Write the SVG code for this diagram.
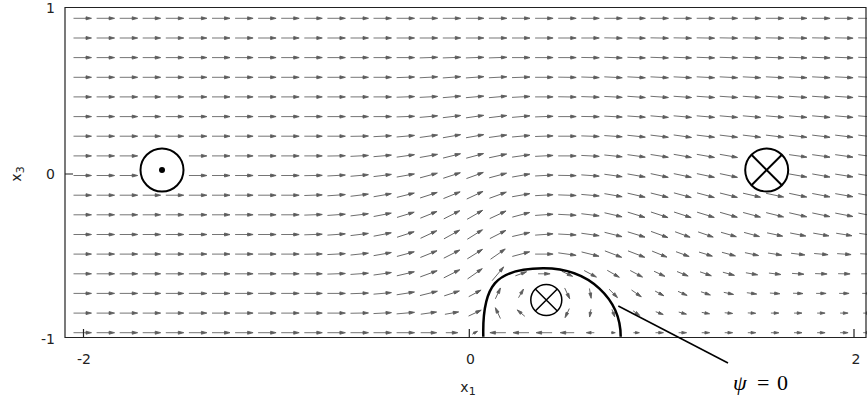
<svg xmlns="http://www.w3.org/2000/svg" width="867" height="401" viewBox="0 0 867 401">
<style>
.ar{fill:#5c5c5c;stroke:#5c5c5c;stroke-width:0.85}
.fr{fill:none;stroke:#222;stroke-width:1.2}
.tk{font-family:'DejaVu Sans',sans-serif;font-size:14px;fill:#222}
.sym{fill:#fff;stroke:#000;stroke-width:2}
.ln{fill:none;stroke:#000}
</style>
<defs>
<path id="a" d="M-9,0H4M3.5,-1.5L9,0L3.5,1.5z"/>
<path id="b" d="M-8,0H3M2.5,-1.5L8,0L2.5,1.5z"/>
<path id="c" d="M-7,0H2M1.5,-1.5L7,0L1.5,1.5z"/>
<path id="d" d="M-6,0H1M0.5,-1.5L6,0L0.5,1.5z"/>
<path id="e" d="M-5,0H0M-0.3,-1.4L5,0L-0.3,1.4z"/>
<path id="f" d="M-4,0H-1M-0.8,-1.3L4,0L-0.8,1.3z"/>
<path id="g" d="M-3,0H0M-1,-1.2L3,0L-1,1.2z"/>
<path id="h" d="M-2,0H0M-1.5,-1.1L2,0L-1.5,1.1z"/>
</defs>
<rect width="867" height="401" fill="#fff"/>
<g id="field" class="ar">
<g transform="translate(0 18.3)">
<use href="#a" x="82.5"/><use href="#a" x="105.6"/><use href="#a" x="128.7"/><use href="#a" x="151.7"/><use href="#a" x="174.8"/><use href="#a" x="197.9"/><use href="#a" x="221"/><use href="#a" x="244.1"/><use href="#a" x="267.1"/><use href="#a" x="290.2"/><use href="#a" x="313.3"/><use href="#a" x="336.4"/><use href="#a" x="359.5"/><use href="#a" x="382.5"/><use href="#a" x="405.6"/><use href="#a" x="428.7"/><use href="#a" x="451.8"/><use href="#a" x="474.9"/><use href="#a" x="497.9"/><use href="#a" x="521"/><use href="#a" x="544.1"/><use href="#a" x="567.2"/><use href="#a" x="590.3"/><use href="#a" x="613.3"/><use href="#a" x="636.4"/><use href="#a" x="659.5"/><use href="#a" x="682.6"/><use href="#a" x="705.7"/><use href="#a" x="728.7"/><use href="#a" x="751.8"/><use href="#a" x="774.9"/><use href="#a" x="798"/><use href="#a" x="821.1"/><use href="#a" x="844.1"/><use href="#a" x="867.2"/>
</g>
<g transform="translate(0 38)">
<use href="#a" x="82.5"/><use href="#a" x="105.6"/><use href="#a" x="128.7"/><use href="#a" x="151.7"/><use href="#a" x="174.8"/><use href="#a" x="197.9"/><use href="#a" x="221"/><use href="#a" x="244.1"/><use href="#a" x="267.1"/><use href="#a" x="290.2"/><use href="#a" x="313.3"/><use href="#a" x="336.4"/><use href="#a" x="359.5"/><use href="#a" x="382.5"/><use href="#a" x="405.6"/><use href="#a" x="428.7"/><use href="#a" x="451.8"/><use href="#a" x="474.9"/><use href="#a" x="497.9"/><use href="#a" x="521"/><use href="#a" x="544.1"/><use href="#a" x="567.2"/><use href="#a" x="590.3"/>
<use href="#a" transform="translate(613.3) rotate(1)"/><use href="#a" transform="translate(636.4) rotate(1)"/><use href="#a" transform="translate(659.5) rotate(1)"/><use href="#a" transform="translate(682.6) rotate(1)"/><use href="#a" transform="translate(705.7) rotate(1)"/><use href="#a" transform="translate(728.7) rotate(1)"/><use href="#a" transform="translate(751.8) rotate(1)"/><use href="#a" transform="translate(774.9) rotate(1)"/><use href="#a" transform="translate(798) rotate(1)"/><use href="#a" transform="translate(821.1) rotate(1)"/><use href="#a" transform="translate(844.1) rotate(1)"/><use href="#a" transform="translate(867.2) rotate(1)"/>
</g>
<g transform="translate(0 57.6)">
<use href="#a" x="82.5"/><use href="#a" x="105.6"/><use href="#a" x="128.7"/><use href="#a" x="151.7"/><use href="#a" x="174.8"/><use href="#a" x="197.9"/><use href="#a" x="221"/><use href="#a" x="244.1"/><use href="#a" x="267.1"/><use href="#a" x="290.2"/><use href="#a" x="313.3"/><use href="#a" x="336.4"/><use href="#a" x="359.5"/><use href="#a" x="382.5"/><use href="#a" x="405.6"/>
<use href="#a" transform="translate(428.7) rotate(-2)"/><use href="#a" transform="translate(451.8) rotate(-2)"/><use href="#a" transform="translate(474.9) rotate(-2)"/><use href="#a" transform="translate(497.9) rotate(-2)"/>
<use href="#a" x="521"/><use href="#a" x="544.1"/><use href="#a" x="567.2"/>
<use href="#a" transform="translate(590.3) rotate(1)"/><use href="#a" transform="translate(613.3) rotate(2)"/><use href="#a" transform="translate(636.4) rotate(2)"/><use href="#a" transform="translate(659.5) rotate(2)"/><use href="#a" transform="translate(682.6) rotate(2)"/><use href="#a" transform="translate(705.7) rotate(2)"/><use href="#a" transform="translate(728.7) rotate(2)"/><use href="#a" transform="translate(751.8) rotate(2)"/><use href="#a" transform="translate(774.9) rotate(2)"/><use href="#a" transform="translate(798) rotate(2)"/><use href="#a" transform="translate(821.1) rotate(2)"/><use href="#a" transform="translate(844.1) rotate(2)"/><use href="#a" transform="translate(867.2) rotate(2)"/>
</g>
<g transform="translate(0 77.3)">
<use href="#a" x="82.5"/><use href="#a" x="105.6"/><use href="#a" x="128.7"/><use href="#a" x="151.7"/><use href="#a" x="174.8"/><use href="#a" x="197.9"/><use href="#a" x="221"/><use href="#a" x="244.1"/><use href="#a" x="267.1"/><use href="#a" x="290.2"/><use href="#a" x="313.3"/><use href="#a" x="336.4"/><use href="#a" x="359.5"/><use href="#a" x="382.5"/>
<use href="#a" transform="translate(405.6) rotate(-2)"/><use href="#a" transform="translate(428.7) rotate(-3)"/><use href="#a" transform="translate(451.8) rotate(-4)"/><use href="#a" transform="translate(474.9) rotate(-4)"/><use href="#a" transform="translate(497.9) rotate(-3)"/><use href="#a" transform="translate(521) rotate(-2)"/>
<use href="#a" x="544.1"/>
<use href="#a" transform="translate(567.2) rotate(1)"/><use href="#a" transform="translate(590.3) rotate(2)"/><use href="#a" transform="translate(613.3) rotate(3)"/><use href="#a" transform="translate(636.4) rotate(3)"/><use href="#a" transform="translate(659.5) rotate(3)"/><use href="#a" transform="translate(682.6) rotate(3)"/><use href="#a" transform="translate(705.7) rotate(3)"/><use href="#a" transform="translate(728.7) rotate(3)"/><use href="#a" transform="translate(751.8) rotate(3)"/><use href="#a" transform="translate(774.9) rotate(3)"/><use href="#a" transform="translate(798) rotate(3)"/><use href="#a" transform="translate(821.1) rotate(3)"/><use href="#a" transform="translate(844.1) rotate(3)"/><use href="#a" transform="translate(867.2) rotate(3)"/>
</g>
<g transform="translate(0 96.9)">
<use href="#a" x="82.5"/><use href="#a" x="105.6"/><use href="#a" x="128.7"/><use href="#a" x="151.7"/><use href="#a" x="174.8"/><use href="#a" x="197.9"/><use href="#a" x="221"/><use href="#a" x="244.1"/><use href="#a" x="267.1"/><use href="#a" x="290.2"/><use href="#a" x="313.3"/><use href="#a" x="336.4"/><use href="#a" x="359.5"/><use href="#a" x="382.5"/>
<use href="#a" transform="translate(405.6) rotate(-2)"/><use href="#a" transform="translate(428.7) rotate(-3)"/><use href="#a" transform="translate(451.8) rotate(-5)"/><use href="#a" transform="translate(474.9) rotate(-5)"/><use href="#a" transform="translate(497.9) rotate(-5)"/><use href="#a" transform="translate(521) rotate(-3)"/>
<use href="#a" x="544.1"/>
<use href="#a" transform="translate(567.2) rotate(1)"/><use href="#a" transform="translate(590.3) rotate(2)"/><use href="#a" transform="translate(613.3) rotate(3)"/><use href="#a" transform="translate(636.4) rotate(4)"/><use href="#a" transform="translate(659.5) rotate(4)"/><use href="#a" transform="translate(682.6) rotate(4)"/><use href="#a" transform="translate(705.7) rotate(4)"/><use href="#a" transform="translate(728.7) rotate(4)"/><use href="#a" transform="translate(751.8) rotate(4)"/><use href="#a" transform="translate(774.9) rotate(4)"/><use href="#a" transform="translate(798) rotate(4)"/><use href="#a" transform="translate(821.1) rotate(4)"/><use href="#a" transform="translate(844.1) rotate(4)"/><use href="#a" transform="translate(867.2) rotate(4)"/>
</g>
<g transform="translate(0 116.6)">
<use href="#a" x="82.5"/><use href="#a" x="105.6"/><use href="#a" x="128.7"/><use href="#a" x="151.7"/><use href="#a" x="174.8"/><use href="#a" x="197.9"/><use href="#a" x="221"/><use href="#a" x="244.1"/><use href="#a" x="267.1"/><use href="#a" x="290.2"/><use href="#a" x="313.3"/><use href="#a" x="336.4"/><use href="#a" x="359.5"/><use href="#a" x="382.5"/>
<use href="#a" transform="translate(405.6) rotate(-2)"/><use href="#a" transform="translate(428.7) rotate(-5)"/><use href="#a" transform="translate(451.8) rotate(-7)"/><use href="#a" transform="translate(474.9) rotate(-8)"/><use href="#a" transform="translate(497.9) rotate(-7)"/><use href="#a" transform="translate(521) rotate(-5)"/><use href="#a" transform="translate(544.1) rotate(-2)"/>
<use href="#a" x="567.2"/>
<use href="#a" transform="translate(590.3) rotate(1)"/><use href="#a" transform="translate(613.3) rotate(3)"/><use href="#a" transform="translate(636.4) rotate(4)"/><use href="#a" transform="translate(659.5) rotate(5)"/><use href="#a" transform="translate(682.6) rotate(5)"/><use href="#a" transform="translate(705.7) rotate(5)"/><use href="#a" transform="translate(728.7) rotate(5)"/><use href="#a" transform="translate(751.8) rotate(5)"/><use href="#a" transform="translate(774.9) rotate(5)"/><use href="#a" transform="translate(798) rotate(5)"/><use href="#a" transform="translate(821.1) rotate(5)"/><use href="#a" transform="translate(844.1) rotate(5)"/><use href="#a" transform="translate(867.2) rotate(5)"/>
</g>
<g transform="translate(0 136.2)">
<use href="#a" x="82.5"/><use href="#a" x="105.6"/><use href="#a" x="128.7"/><use href="#a" x="151.7"/><use href="#a" x="174.8"/><use href="#a" x="197.9"/><use href="#a" x="221"/><use href="#a" x="244.1"/><use href="#a" x="267.1"/><use href="#a" x="290.2"/><use href="#a" x="313.3"/><use href="#a" x="336.4"/>
<use href="#a" transform="translate(359.5) rotate(-1)"/><use href="#a" transform="translate(382.5) rotate(-3)"/><use href="#a" transform="translate(405.6) rotate(-5)"/><use href="#a" transform="translate(428.7) rotate(-8)"/><use href="#a" transform="translate(451.8) rotate(-10)"/><use href="#a" transform="translate(474.9) rotate(-10)"/><use href="#a" transform="translate(497.9) rotate(-8)"/><use href="#a" transform="translate(521) rotate(-5)"/><use href="#a" transform="translate(544.1) rotate(-2)"/>
<use href="#a" x="567.2"/>
<use href="#a" transform="translate(590.3) rotate(2)"/><use href="#a" transform="translate(613.3) rotate(4)"/><use href="#a" transform="translate(636.4) rotate(6)"/><use href="#a" transform="translate(659.5) rotate(7)"/><use href="#a" transform="translate(682.6) rotate(8)"/><use href="#a" transform="translate(705.7) rotate(7)"/><use href="#a" transform="translate(728.7) rotate(7)"/><use href="#a" transform="translate(751.8) rotate(7)"/><use href="#a" transform="translate(774.9) rotate(7)"/><use href="#a" transform="translate(798) rotate(7)"/><use href="#a" transform="translate(821.1) rotate(7)"/><use href="#a" transform="translate(844.1) rotate(7)"/><use href="#a" transform="translate(867.2) rotate(7)"/>
</g>
<g transform="translate(0 155.9)">
<use href="#a" x="82.5"/><use href="#a" x="105.6"/><use href="#a" x="128.7"/><use href="#a" x="197.9"/><use href="#a" x="221"/><use href="#a" x="244.1"/><use href="#a" x="267.1"/><use href="#a" x="290.2"/><use href="#a" x="313.3"/>
<use href="#a" transform="translate(336.4) rotate(-1)"/><use href="#a" transform="translate(359.5) rotate(-3)"/><use href="#a" transform="translate(382.5) rotate(-5)"/><use href="#a" transform="translate(405.6) rotate(-8)"/><use href="#a" transform="translate(428.7) rotate(-10)"/><use href="#a" transform="translate(451.8) rotate(-14)"/><use href="#a" transform="translate(474.9) rotate(-15)"/><use href="#a" transform="translate(497.9) rotate(-12)"/><use href="#a" transform="translate(521) rotate(-8)"/><use href="#a" transform="translate(544.1) rotate(-3)"/>
<use href="#a" x="567.2"/>
<use href="#a" transform="translate(590.3) rotate(3)"/><use href="#a" transform="translate(613.3) rotate(6)"/><use href="#a" transform="translate(636.4) rotate(8)"/><use href="#a" transform="translate(659.5) rotate(9)"/><use href="#a" transform="translate(682.6) rotate(10)"/><use href="#a" transform="translate(705.7) rotate(10)"/><use href="#a" transform="translate(728.7) rotate(10)"/><use href="#a" transform="translate(798) rotate(8)"/><use href="#a" transform="translate(821.1) rotate(8)"/><use href="#a" transform="translate(844.1) rotate(8)"/><use href="#a" transform="translate(867.2) rotate(8)"/>
</g>
<g transform="translate(0 175.5)">
<use href="#a" x="82.5"/><use href="#a" x="105.6"/><use href="#a" x="128.7"/><use href="#a" x="197.9"/><use href="#a" x="221"/><use href="#a" x="244.1"/><use href="#a" x="267.1"/><use href="#a" x="290.2"/>
<use href="#a" transform="translate(313.3) rotate(-1)"/><use href="#a" transform="translate(336.4) rotate(-3)"/><use href="#a" transform="translate(359.5) rotate(-5)"/><use href="#a" transform="translate(382.5) rotate(-7)"/><use href="#a" transform="translate(405.6) rotate(-10)"/><use href="#a" transform="translate(428.7) rotate(-15)"/><use href="#a" transform="translate(451.8) rotate(-18)"/><use href="#a" transform="translate(474.9) rotate(-20)"/><use href="#a" transform="translate(497.9) rotate(-15)"/><use href="#a" transform="translate(521) rotate(-10)"/><use href="#a" transform="translate(544.1) rotate(-3)"/>
<use href="#a" transform="translate(567.2) rotate(1)"/><use href="#a" transform="translate(590.3) rotate(4)"/><use href="#a" transform="translate(613.3) rotate(8)"/><use href="#a" transform="translate(636.4) rotate(10)"/><use href="#a" transform="translate(659.5) rotate(12)"/><use href="#a" transform="translate(682.6) rotate(12)"/><use href="#a" transform="translate(705.7) rotate(12)"/><use href="#a" transform="translate(728.7) rotate(12)"/><use href="#a" transform="translate(798) rotate(10)"/><use href="#a" transform="translate(821.1) rotate(10)"/><use href="#a" transform="translate(844.1) rotate(9)"/><use href="#a" transform="translate(867.2) rotate(9)"/>
</g>
<g transform="translate(0 195.2)">
<use href="#a" x="82.5"/><use href="#a" x="105.6"/><use href="#a" x="128.7"/><use href="#a" x="151.7"/><use href="#a" x="174.8"/><use href="#a" x="197.9"/><use href="#a" x="221"/><use href="#a" x="244.1"/><use href="#a" x="267.1"/><use href="#a" x="290.2"/>
<use href="#a" transform="translate(313.3) rotate(-2)"/><use href="#a" transform="translate(336.4) rotate(-4)"/><use href="#a" transform="translate(359.5) rotate(-7)"/><use href="#a" transform="translate(382.5) rotate(-10)"/><use href="#a" transform="translate(405.6) rotate(-14)"/><use href="#a" transform="translate(428.7) rotate(-18)"/><use href="#a" transform="translate(451.8) rotate(-22)"/><use href="#a" transform="translate(474.9) rotate(-25)"/><use href="#a" transform="translate(497.9) rotate(-20)"/><use href="#a" transform="translate(521) rotate(-10)"/><use href="#a" transform="translate(544.1) rotate(-3)"/>
<use href="#a" transform="translate(567.2) rotate(2)"/><use href="#a" transform="translate(590.3) rotate(5)"/><use href="#a" transform="translate(613.3) rotate(10)"/><use href="#a" transform="translate(636.4) rotate(13)"/><use href="#a" transform="translate(659.5) rotate(14)"/><use href="#a" transform="translate(682.6) rotate(15)"/><use href="#a" transform="translate(705.7) rotate(15)"/><use href="#a" transform="translate(728.7) rotate(14)"/><use href="#a" transform="translate(751.8) rotate(13)"/><use href="#a" transform="translate(774.9) rotate(12)"/><use href="#a" transform="translate(798) rotate(12)"/><use href="#a" transform="translate(821.1) rotate(11)"/><use href="#a" transform="translate(844.1) rotate(10)"/><use href="#a" transform="translate(867.2) rotate(10)"/>
</g>
<g transform="translate(0 214.8)">
<use href="#a" x="82.5"/><use href="#a" x="105.6"/><use href="#a" x="128.7"/><use href="#a" x="151.7"/><use href="#a" x="174.8"/><use href="#a" x="197.9"/><use href="#a" x="221"/><use href="#a" x="244.1"/><use href="#a" x="267.1"/><use href="#a" x="290.2"/>
<use href="#a" transform="translate(313.3) rotate(-2)"/><use href="#a" transform="translate(336.4) rotate(-4)"/><use href="#a" transform="translate(359.5) rotate(-7)"/><use href="#a" transform="translate(382.5) rotate(-11)"/><use href="#a" transform="translate(405.6) rotate(-17)"/><use href="#a" transform="translate(428.7) rotate(-22)"/><use href="#a" transform="translate(451.8) rotate(-27)"/><use href="#a" transform="translate(474.9) rotate(-30)"/><use href="#a" transform="translate(497.9) rotate(-25)"/><use href="#a" transform="translate(521) rotate(-15)"/><use href="#a" transform="translate(544.1) rotate(-4)"/>
<use href="#a" transform="translate(567.2) rotate(3)"/><use href="#a" transform="translate(590.3) rotate(7)"/><use href="#a" transform="translate(613.3) rotate(13)"/><use href="#a" transform="translate(636.4) rotate(17)"/><use href="#a" transform="translate(659.5) rotate(18)"/><use href="#a" transform="translate(682.6) rotate(18)"/><use href="#a" transform="translate(705.7) rotate(17)"/><use href="#a" transform="translate(728.7) rotate(16)"/><use href="#a" transform="translate(751.8) rotate(15)"/><use href="#a" transform="translate(774.9) rotate(14)"/><use href="#a" transform="translate(798) rotate(13)"/><use href="#a" transform="translate(821.1) rotate(12)"/><use href="#a" transform="translate(844.1) rotate(11)"/><use href="#a" transform="translate(867.2) rotate(11)"/>
</g>
<g transform="translate(0 234.5)">
<use href="#a" x="82.5"/><use href="#a" x="105.6"/><use href="#a" x="128.7"/><use href="#a" x="151.7"/><use href="#a" x="174.8"/><use href="#a" x="197.9"/><use href="#a" x="221"/><use href="#a" x="244.1"/><use href="#a" x="267.1"/><use href="#a" x="290.2"/>
<use href="#a" transform="translate(313.3) rotate(-2)"/><use href="#a" transform="translate(336.4) rotate(-4)"/><use href="#a" transform="translate(359.5) rotate(-7)"/><use href="#a" transform="translate(382.5) rotate(-11)"/><use href="#a" transform="translate(405.6) rotate(-18)"/><use href="#a" transform="translate(428.7) rotate(-25)"/><use href="#a" transform="translate(451.8) rotate(-29)"/><use href="#a" transform="translate(474.9) rotate(-32)"/><use href="#a" transform="translate(497.9) rotate(-27)"/><use href="#a" transform="translate(521) rotate(-13)"/><use href="#a" transform="translate(544.1) rotate(-4)"/>
<use href="#a" transform="translate(567.2) rotate(3)"/><use href="#a" transform="translate(590.3) rotate(8)"/><use href="#a" transform="translate(613.3) rotate(14)"/><use href="#a" transform="translate(636.4) rotate(17)"/><use href="#a" transform="translate(659.5) rotate(20)"/>
<use href="#b" transform="translate(682.6) rotate(20)"/><use href="#b" transform="translate(705.7) rotate(19)"/><use href="#b" transform="translate(728.7) rotate(16)"/><use href="#b" transform="translate(751.8) rotate(15)"/><use href="#b" transform="translate(774.9) rotate(12)"/><use href="#b" transform="translate(798) rotate(11)"/><use href="#b" transform="translate(821.1) rotate(10)"/><use href="#b" transform="translate(844.1) rotate(9)"/><use href="#b" transform="translate(867.2) rotate(8)"/>
</g>
<g transform="translate(0 254.1)">
<use href="#a" x="82.5"/><use href="#a" x="105.6"/><use href="#a" x="128.7"/><use href="#a" x="151.7"/><use href="#a" x="174.8"/><use href="#a" x="197.9"/><use href="#a" x="221"/><use href="#a" x="244.1"/><use href="#a" x="267.1"/><use href="#a" x="290.2"/>
<use href="#a" transform="translate(313.3) rotate(-1)"/><use href="#a" transform="translate(336.4) rotate(-3)"/><use href="#a" transform="translate(359.5) rotate(-6)"/><use href="#a" transform="translate(382.5) rotate(-10)"/><use href="#a" transform="translate(405.6) rotate(-15)"/><use href="#a" transform="translate(428.7) rotate(-22)"/><use href="#a" transform="translate(451.8) rotate(-27)"/><use href="#a" transform="translate(474.9) rotate(-32)"/><use href="#a" transform="translate(497.9) rotate(-35)"/><use href="#a" transform="translate(521) rotate(-15)"/>
<use href="#a" x="544.1"/>
<use href="#a" transform="translate(567.2) rotate(8)"/><use href="#a" transform="translate(590.3) rotate(14)"/><use href="#a" transform="translate(613.3) rotate(21)"/><use href="#a" transform="translate(636.4) rotate(21)"/><use href="#b" transform="translate(659.5) rotate(22)"/>
<use href="#c" transform="translate(682.6) rotate(20)"/><use href="#c" transform="translate(705.7) rotate(17)"/><use href="#c" transform="translate(728.7) rotate(15)"/><use href="#c" transform="translate(751.8) rotate(12)"/><use href="#c" transform="translate(774.9) rotate(9)"/><use href="#c" transform="translate(798) rotate(7)"/><use href="#c" transform="translate(821.1) rotate(5)"/><use href="#c" transform="translate(844.1) rotate(4)"/><use href="#c" transform="translate(867.2) rotate(3)"/>
</g>
<g transform="translate(0 273.8)">
<use href="#a" x="82.5"/><use href="#a" x="105.6"/><use href="#a" x="128.7"/><use href="#a" x="151.7"/><use href="#a" x="174.8"/><use href="#a" x="197.9"/><use href="#a" x="221"/><use href="#a" x="244.1"/><use href="#a" x="267.1"/><use href="#a" x="290.2"/><use href="#a" x="313.3"/>
<use href="#a" transform="translate(336.4) rotate(-2)"/><use href="#a" transform="translate(359.5) rotate(-4)"/><use href="#a" transform="translate(382.5) rotate(-8)"/><use href="#a" transform="translate(405.6) rotate(-13)"/><use href="#a" transform="translate(428.7) rotate(-20)"/><use href="#a" transform="translate(451.8) rotate(-27)"/><use href="#a" transform="translate(474.9) rotate(-35)"/><use href="#a" transform="translate(497.9) rotate(-50)"/>
<use href="#d" transform="translate(521) rotate(-20)"/><use href="#d" x="544.1"/><use href="#d" transform="translate(567.2) rotate(25)"/>
<use href="#c" transform="translate(590.3) rotate(28)"/><use href="#c" transform="translate(613.3) rotate(30)"/><use href="#c" transform="translate(636.4) rotate(28)"/>
<use href="#d" transform="translate(659.5) rotate(25)"/><use href="#d" transform="translate(682.6) rotate(22)"/><use href="#d" transform="translate(705.7) rotate(19)"/><use href="#d" transform="translate(728.7) rotate(15)"/><use href="#d" transform="translate(751.8) rotate(10)"/><use href="#d" transform="translate(774.9) rotate(7)"/><use href="#d" transform="translate(798) rotate(4)"/><use href="#d" transform="translate(821.1) rotate(2)"/><use href="#d" transform="translate(844.1) rotate(1)"/><use href="#d" x="867.2"/>
</g>
<g transform="translate(0 293.4)">
<use href="#a" x="82.5"/><use href="#a" x="105.6"/><use href="#a" x="128.7"/><use href="#a" x="151.7"/><use href="#a" x="174.8"/><use href="#a" x="197.9"/><use href="#a" x="221"/><use href="#a" x="244.1"/><use href="#a" x="267.1"/><use href="#a" x="290.2"/><use href="#a" x="313.3"/><use href="#a" x="336.4"/>
<use href="#a" transform="translate(359.5) rotate(-2)"/><use href="#a" transform="translate(382.5) rotate(-5)"/><use href="#a" transform="translate(405.6) rotate(-9)"/><use href="#a" transform="translate(428.7) rotate(-14)"/><use href="#b" transform="translate(451.8) rotate(-18)"/><use href="#c" transform="translate(474.9) rotate(-28)"/>
<use href="#d" transform="translate(497.9) rotate(-65)"/><use href="#e" transform="translate(521) rotate(-60)"/>
<use href="#d" transform="translate(567.2) rotate(65)"/><use href="#e" transform="translate(590.3) rotate(80)"/><use href="#d" transform="translate(613.3) rotate(45)"/><use href="#d" transform="translate(636.4) rotate(35)"/>
<use href="#e" transform="translate(659.5) rotate(28)"/><use href="#e" transform="translate(682.6) rotate(24)"/><use href="#e" transform="translate(705.7) rotate(19)"/><use href="#e" transform="translate(728.7) rotate(12)"/><use href="#e" transform="translate(751.8) rotate(8)"/><use href="#e" transform="translate(774.9) rotate(4)"/><use href="#e" transform="translate(798) rotate(2)"/><use href="#e" x="821.1"/><use href="#e" x="844.1"/><use href="#e" x="867.2"/>
</g>
<g transform="translate(0 313.1)">
<use href="#a" x="82.5"/><use href="#a" x="105.6"/><use href="#a" x="128.7"/><use href="#a" x="151.7"/><use href="#a" x="174.8"/><use href="#a" x="197.9"/><use href="#a" x="221"/><use href="#a" x="244.1"/><use href="#a" x="267.1"/><use href="#a" x="290.2"/><use href="#a" x="313.3"/><use href="#a" x="336.4"/>
<use href="#a" transform="translate(359.5) rotate(-1)"/><use href="#a" transform="translate(382.5) rotate(-3)"/><use href="#a" transform="translate(405.6) rotate(-5)"/><use href="#b" transform="translate(428.7) rotate(-8)"/><use href="#c" transform="translate(451.8) rotate(-10)"/><use href="#c" transform="translate(474.9) rotate(-25)"/>
<use href="#d" transform="translate(497.9) rotate(-115)"/><use href="#e" transform="translate(521) rotate(-140)"/>
<use href="#e" transform="translate(567.2) rotate(115)"/><use href="#f" transform="translate(590.3) rotate(100)"/><use href="#f" transform="translate(613.3) rotate(70)"/><use href="#f" transform="translate(636.4) rotate(35)"/>
<use href="#f" transform="translate(659.5) rotate(20)"/><use href="#f" transform="translate(682.6) rotate(15)"/><use href="#f" transform="translate(705.7) rotate(10)"/><use href="#f" transform="translate(728.7) rotate(5)"/><use href="#f" transform="translate(751.8) rotate(3)"/><use href="#f" x="774.9"/><use href="#f" x="798"/><use href="#f" x="821.1"/><use href="#f" x="844.1"/><use href="#f" x="867.2"/>
</g>
<g transform="translate(0 332.7)">
<use href="#a" x="82.5"/><use href="#a" x="105.6"/><use href="#a" x="128.7"/><use href="#a" x="151.7"/><use href="#a" x="174.8"/><use href="#a" x="197.9"/><use href="#a" x="221"/><use href="#a" x="244.1"/><use href="#a" x="267.1"/><use href="#a" x="290.2"/><use href="#a" x="313.3"/><use href="#a" x="336.4"/><use href="#a" x="359.5"/><use href="#a" x="382.5"/><use href="#a" x="405.6"/>
<use href="#b" x="428.7"/><use href="#d" x="451.8"/><use href="#g" transform="translate(474.9) rotate(-30)"/>
<use href="#b" transform="translate(497.9) rotate(180)"/><use href="#b" transform="translate(521) rotate(180)"/><use href="#b" transform="translate(544.1) rotate(180)"/><use href="#c" transform="translate(567.2) rotate(180)"/><use href="#f" transform="translate(590.3) rotate(180)"/>
<use href="#h" x="613.3"/><use href="#g" x="636.4"/><use href="#f" x="659.5"/><use href="#f" x="682.6"/><use href="#f" x="705.7"/><use href="#f" x="728.7"/><use href="#f" x="751.8"/><use href="#f" x="774.9"/><use href="#f" x="798"/><use href="#f" x="821.1"/><use href="#f" x="844.1"/><use href="#f" x="867.2"/>
</g>
</g>
<g id="axes">
<path class="fr" d="M65,7.5H866V337.5H65Z"/>
<path class="fr" d="M65,174H73M83.5,337.5V329M469.3,337.5V329M854,337.5V329"/>
<text class="tk" x="55" y="13" text-anchor="end">1</text>
<text class="tk" x="55" y="179" text-anchor="end">0</text>
<text class="tk" x="55" y="343.5" text-anchor="end">-1</text>
<text class="tk" x="84" y="364" text-anchor="middle">-2</text>
<text class="tk" x="470.5" y="364" text-anchor="middle">0</text>
<text class="tk" x="856" y="364" text-anchor="middle">2</text>
<text class="tk" x="468" y="392" text-anchor="middle">x<tspan font-size="11" dy="3">1</tspan></text>
<text class="tk" transform="translate(21 174) rotate(-90)" text-anchor="middle">x<tspan font-size="11" dy="3">3</tspan></text>
</g>
<g id="vortex-left">
<circle class="sym" cx="162" cy="170" r="21.5"/>
<circle cx="162" cy="170" r="3" fill="#000"/>
</g>
<g id="vortex-right">
<circle class="sym" cx="766.7" cy="170" r="21.5"/>
<path class="ln" stroke-width="2" d="M751.5,154.8L781.9,185.2M781.9,154.8L751.5,185.2"/>
</g>
<g id="bubble">
<path class="ln" stroke-width="2.5" d="M483.3,336.7C482,285 496,268.5 543,268.3C590,268 620.7,300 620.7,336.7"/>
<circle cx="546.3" cy="300" r="15.5" fill="#fff" stroke="#000" stroke-width="1.5"/>
<path class="ln" stroke-width="1.5" d="M535.3,289L557.3,311M557.3,289L535.3,311"/>
</g>
<g id="connectors">
<path class="ln" stroke-width="1.5" d="M618.3,306L728,363"/>
</g>
<g id="psi-label">
<text font-family="'Liberation Serif',serif" font-size="22" y="390"><tspan x="733" font-style="italic">ψ</tspan><tspan x="757">=</tspan><tspan x="777">0</tspan></text>
</g>
</svg>
